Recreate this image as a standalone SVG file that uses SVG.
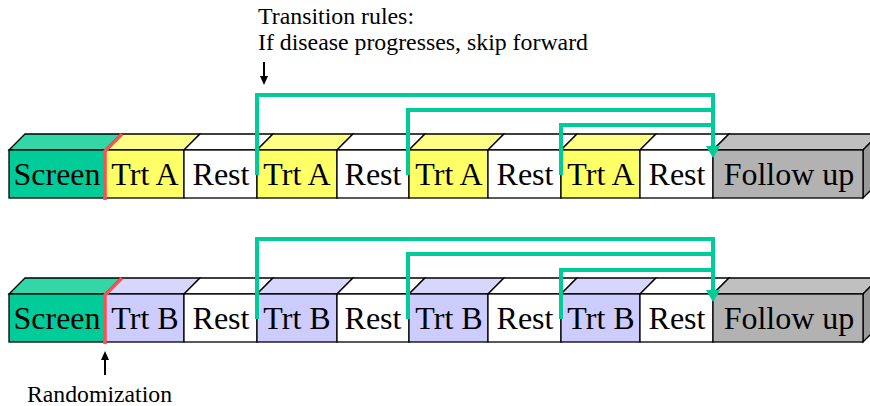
<svg xmlns="http://www.w3.org/2000/svg" width="870" height="406" viewBox="0 0 870 406">
  <defs>
    <style>
      .edge { stroke: #000; stroke-width: 1.3; stroke-linejoin: miter; }
      .scr-f { fill: #00cc99; } .scr-t { fill: #33d6a6; }
      .a-f { fill: #ffff66; } .a-t { fill: #ffff85; }
      .b-f { fill: #ccccff; } .b-t { fill: #d6d6ff; }
      .r-f { fill: #ffffff; } .r-t { fill: #ffffff; }
      .fu-f { fill: #b2b2b2; } .fu-t { fill: #c0c0c0; } .fu-s { fill: #999999; }
      .lbl { font-family: "Liberation Serif", "Times New Roman", serif; font-size: 32px; fill: #000; text-anchor: middle; }
      .note { font-family: "Liberation Serif", "Times New Roman", serif; font-size: 23px; fill: #000; }
      .link { fill: none; stroke: #00cc99; stroke-width: 4; stroke-linejoin: miter; stroke-linecap: butt; }
      .linkhead { fill: #00cc99; }
      .rand { fill: none; stroke: #ff5050; stroke-width: 3.5; stroke-linecap: butt; }
      .ptr { stroke: #000; stroke-width: 2; }
    </style>
  </defs>

  <!-- Arm A: front faces at y 150..198, top faces 16px deep -->
  <g id="armA">
    <g id="a-screen">
      <polygon class="scr-t edge" points="9,150 25,134 121,134 105,150"/>
      <rect class="scr-f edge" x="9" y="150" width="96" height="48"/>
      <text class="lbl" x="57" y="185">Screen</text>
    </g>
    <g id="a-trt1">
      <polygon class="a-t edge" points="105,150 121,134 200,134 184,150"/>
      <rect class="a-f edge" x="105" y="150" width="79" height="48"/>
      <text class="lbl" x="145" y="185">Trt A</text>
    </g>
    <g id="a-rest1">
      <polygon class="r-t edge" points="184,150 200,134 273,134 257,150"/>
      <rect class="r-f edge" x="184" y="150" width="73" height="48"/>
      <text class="lbl" x="221" y="185">Rest</text>
    </g>
    <g id="a-trt2">
      <polygon class="a-t edge" points="257,150 273,134 353,134 337,150"/>
      <rect class="a-f edge" x="257" y="150" width="80" height="48"/>
      <text class="lbl" x="297" y="185">Trt A</text>
    </g>
    <g id="a-rest2">
      <polygon class="r-t edge" points="337,150 353,134 425,134 409,150"/>
      <rect class="r-f edge" x="337" y="150" width="72" height="48"/>
      <text class="lbl" x="373" y="185">Rest</text>
    </g>
    <g id="a-trt3">
      <polygon class="a-t edge" points="409,150 425,134 504,134 488,150"/>
      <rect class="a-f edge" x="409" y="150" width="79" height="48"/>
      <text class="lbl" x="449" y="185">Trt A</text>
    </g>
    <g id="a-rest3">
      <polygon class="r-t edge" points="488,150 504,134 577,134 561,150"/>
      <rect class="r-f edge" x="488" y="150" width="73" height="48"/>
      <text class="lbl" x="525" y="185">Rest</text>
    </g>
    <g id="a-trt4">
      <polygon class="a-t edge" points="561,150 577,134 656,134 640,150"/>
      <rect class="a-f edge" x="561" y="150" width="79" height="48"/>
      <text class="lbl" x="601" y="185">Trt A</text>
    </g>
    <g id="a-rest4">
      <polygon class="r-t edge" points="640,150 656,134 729,134 713,150"/>
      <rect class="r-f edge" x="640" y="150" width="73" height="48"/>
      <text class="lbl" x="677" y="185">Rest</text>
    </g>
    <g id="a-followup">
      <polygon class="fu-t edge" points="713,150 729,134 879,134 863,150"/>
      <polygon class="fu-s edge" points="863,150 879,134 879,182 863,198"/>
      <rect class="fu-f edge" x="713" y="150" width="150" height="48"/>
      <text class="lbl" x="789" y="185">Follow up</text>
    </g>
  </g>

  <!-- Arm B: same layout shifted down by 144 -->
  <g id="armB">
    <g id="b-screen">
      <polygon class="scr-t edge" points="9,294 25,278 121,278 105,294"/>
      <rect class="scr-f edge" x="9" y="294" width="96" height="48"/>
      <text class="lbl" x="57" y="329">Screen</text>
    </g>
    <g id="b-trt1">
      <polygon class="b-t edge" points="105,294 121,278 200,278 184,294"/>
      <rect class="b-f edge" x="105" y="294" width="79" height="48"/>
      <text class="lbl" x="145" y="329">Trt B</text>
    </g>
    <g id="b-rest1">
      <polygon class="r-t edge" points="184,294 200,278 273,278 257,294"/>
      <rect class="r-f edge" x="184" y="294" width="73" height="48"/>
      <text class="lbl" x="221" y="329">Rest</text>
    </g>
    <g id="b-trt2">
      <polygon class="b-t edge" points="257,294 273,278 353,278 337,294"/>
      <rect class="b-f edge" x="257" y="294" width="80" height="48"/>
      <text class="lbl" x="297" y="329">Trt B</text>
    </g>
    <g id="b-rest2">
      <polygon class="r-t edge" points="337,294 353,278 425,278 409,294"/>
      <rect class="r-f edge" x="337" y="294" width="72" height="48"/>
      <text class="lbl" x="373" y="329">Rest</text>
    </g>
    <g id="b-trt3">
      <polygon class="b-t edge" points="409,294 425,278 504,278 488,294"/>
      <rect class="b-f edge" x="409" y="294" width="79" height="48"/>
      <text class="lbl" x="449" y="329">Trt B</text>
    </g>
    <g id="b-rest3">
      <polygon class="r-t edge" points="488,294 504,278 577,278 561,294"/>
      <rect class="r-f edge" x="488" y="294" width="73" height="48"/>
      <text class="lbl" x="525" y="329">Rest</text>
    </g>
    <g id="b-trt4">
      <polygon class="b-t edge" points="561,294 577,278 656,278 640,294"/>
      <rect class="b-f edge" x="561" y="294" width="79" height="48"/>
      <text class="lbl" x="601" y="329">Trt B</text>
    </g>
    <g id="b-rest4">
      <polygon class="r-t edge" points="640,294 656,278 729,278 713,294"/>
      <rect class="r-f edge" x="640" y="294" width="73" height="48"/>
      <text class="lbl" x="677" y="329">Rest</text>
    </g>
    <g id="b-followup">
      <polygon class="fu-t edge" points="713,294 729,278 879,278 863,294"/>
      <polygon class="fu-s edge" points="863,294 879,278 879,326 863,342"/>
      <rect class="fu-f edge" x="713" y="294" width="150" height="48"/>
      <text class="lbl" x="789" y="329">Follow up</text>
    </g>
  </g>

  <!-- Randomization boundary between screening and treatment -->
  <g id="randomization-marks">
    <path class="rand" d="M105,200 V151 L122,134"/>
    <path class="rand" d="M105,344 V295 L122,278"/>
  </g>

  <!-- Skip-forward transitions -->
  <g id="connectors">
    <path class="link" d="M257,175 V95 H713 V148"/>
    <path class="link" d="M408,175 V110 H713"/>
    <path class="link" d="M561,175 V125 H713"/>
    <polygon class="linkhead" points="706,146 720,146 713,158"/>

    <path class="link" d="M257,319 V239 H713 V292"/>
    <path class="link" d="M408,319 V254 H713"/>
    <path class="link" d="M561,319 V270 H713"/>
    <polygon class="linkhead" points="706,290 720,290 713,302"/>

    <line class="ptr" x1="264" y1="62" x2="264" y2="77"/>
    <polygon points="260,76 268,76 264,85"/>
    <line class="ptr" x1="105" y1="375" x2="105" y2="359"/>
    <polygon points="101,360 109,360 105,351"/>
  </g>

  <g id="notes">
    <text class="note" x="258" y="24" textLength="156" lengthAdjust="spacingAndGlyphs">Transition rules:</text>
    <text class="note" x="258" y="50" textLength="330" lengthAdjust="spacingAndGlyphs">If disease progresses, skip forward</text>
    <text class="note" x="27" y="402" textLength="145" lengthAdjust="spacingAndGlyphs">Randomization</text>
  </g>
</svg>
